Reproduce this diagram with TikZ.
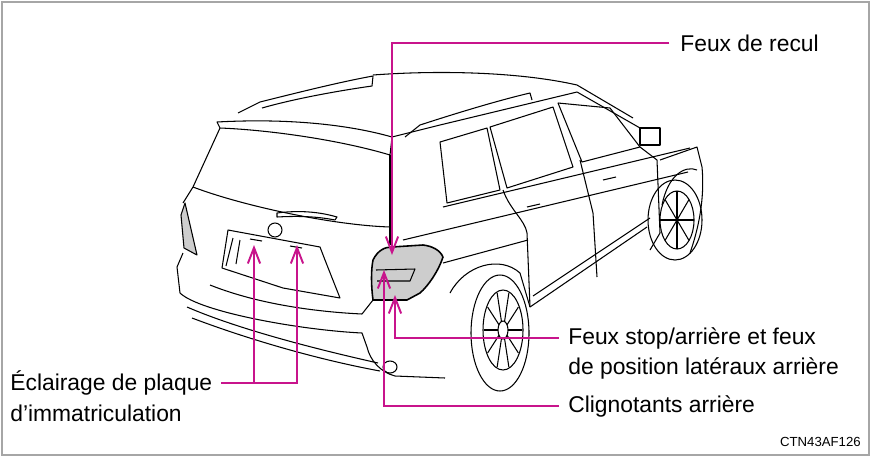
\documentclass[tikz,border=0pt]{standalone}
\usepackage{fontspec}
\setmainfont{Liberation Sans}
\usetikzlibrary{arrows.meta}
\definecolor{callout}{RGB}{200,20,140}
\definecolor{lampgray}{RGB}{205,205,205}
\tikzset{
  lbl/.style={inner sep=0pt, anchor=west, font=\fontsize{13}{15}\selectfont},
  lead/.style={callout, line width=1.1pt},
  tip/.style={lead, -{Straight Barb[length=9pt,width=7pt]}},
  car/.style={black, line width=0.6pt, line join=round}
}
\begin{document}
\begin{tikzpicture}[x=0.02cm, y=-0.02cm]
\useasboundingbox (0,0) rectangle (871,457);
\draw[gray!70, line width=0.8pt] (2,2) rectangle (869,455);

% car body (simplified line art)
\begin{scope}[car]
  % roof rails
  \draw (238,113) -- (260,102) .. controls (300,92) and (340,82) .. (373,76) -- (372,86)
        .. controls (330,92) and (290,100) .. (262,108);
  \draw (405,137) -- (420,125) .. controls (460,112) and (500,100) .. (530,93) -- (532,100);
  % roof line
  \draw (373,75) .. controls (440,70) and (520,72) .. (577,85) -- (633,118);
  % spoiler
  \draw (217,122) .. controls (290,118) and (350,125) .. (392,137) -- (390,155)
        .. controls (340,140) and (270,130) .. (220,128) -- cycle;
  % hatch
  \draw (220,128) -- (193,187) -- (183,203);
  \draw (193,187) .. controls (240,205) and (330,225) .. (390,227);
  \draw (390,155) -- (390,245);
  \draw (277,213) .. controls (300,210) and (320,212) .. (337,217) -- (335,220)
        .. controls (315,216) and (295,216) .. (277,217) -- cycle;
  \draw (275,230) circle (7);
  % plate recess
  \draw (228,230) -- (320,247) -- (325,260) -- (340,298) -- (283,288) -- (222,268) -- cycle;
  \draw (233,238) -- (226,266) (240,240) -- (236,264);
  \draw (250,239) -- (262,241) (290,246) -- (302,248);
  % lower body and bumper
  \draw (183,253) -- (177,267) -- (180,293) .. controls (200,312) and (300,330) .. (362,333)
        -- (367,347) .. controls (370,360) and (380,372) .. (395,376) -- (445,378);
  \draw (187,307) .. controls (240,330) and (320,350) .. (378,363);
  \draw (192,318) .. controls (250,340) and (320,360) .. (380,371);
  \draw (390,367) ellipse (7 and 6);
  \draw (210,285) .. controls (260,305) and (320,312) .. (362,314) -- (373,300);
  % left tail lamp
  \filldraw[fill=lampgray] (185,203) -- (197,255) -- (184,248) -- (181,215) -- cycle;
  % right tail lamp
  \filldraw[fill=lampgray, line width=0.9pt] (373,260) .. controls (378,250) and (385,247) .. (392,247)
        -- (423,245) .. controls (432,246) and (440,250) .. (443,257)
        .. controls (438,272) and (428,286) .. (420,293) -- (407,300) -- (373,300)
        .. controls (371,285) and (371,270) .. (373,260);
  \draw (376,270) -- (415,269) -- (410,281) -- (377,281);
  % side windows
  \draw (440,142) -- (487,128) -- (500,190) -- (447,203) -- cycle;
  \draw (490,127) -- (553,107) -- (573,167) -- (507,188) -- cycle;
  \draw (558,103) -- (610,108) -- (640,147) -- (582,162) -- cycle;
  \draw (640,128) rectangle (660,145);
  % side body
  \draw (392,137) -- (440,125) -- (577,92) -- (640,128);
  \draw (443,207) -- (690,148);
  \draw (403,240) -- (688,172);
  \draw (503,190) .. controls (510,210) and (525,220) .. (527,233) -- (530,307);
  \draw (580,160) -- (593,213) -- (597,277);
  \draw (640,147) -- (657,160) -- (660,233) -- (650,250);
  \draw (660,160) -- (697,147) -- (702,167) .. controls (705,200) and (698,230) .. (690,253);
  \draw (527,207) -- (540,204) (603,180) -- (616,177);
  \draw (530,307) -- (647,227) (533,296) -- (650,218);
  \draw (443,263) -- (528,240);
  % rear wheel
  \draw (450,293) .. controls (465,265) and (500,255) .. (520,273) -- (530,307);
  \draw (500,333) ellipse (29 and 58);
  \draw (503,330) ellipse (20 and 40);
  \draw (503,330) ellipse (5 and 9);
  \foreach \a in {0,36,...,324}
    \draw (503,330) ++({5*cos(\a)},{9*sin(\a)}) -- ++({14*cos(\a)},{30*sin(\a)});
  % front wheel
  \draw (662,205) .. controls (668,175) and (685,165) .. (697,170);
  \draw (675,220) ellipse (27 and 40);
  \draw (677,220) ellipse (17 and 29);
  \foreach \a in {0,45,...,315}
    \draw (677,220) -- ++({17*cos(\a)},{29*sin(\a)});
\end{scope}

% labels
\node[lbl] (recul) at (680,43) {Feux de recul};
\node[lbl] (stop) at (568,338) {Feux stop/arrière et feux};
\node[lbl] (pos) at (568,368) {de position latéraux arrière};
\node[lbl] (clign) at (568,406) {Clignotants arrière};
\node[lbl] (plaque) at (10,383) {Éclairage de plaque};
\node[lbl] (immat) at (10,413) {d'immatriculation};
\node[inner sep=0pt, anchor=east, font=\fontsize{7.5}{9}\selectfont] (code) at (861,442) {CTN43AF126};

% leaders
\coordinate (recultip) at (392,255);
\coordinate (stoptip) at (395,295);
\coordinate (cligntip) at (384,270);
\coordinate (plA) at (254,245);
\coordinate (plB) at (297,245);
\draw[tip] ([xshift=-6pt]recul.west) -| (recultip);
\draw[tip] ([xshift=-5pt]stop.west) -| (stoptip);
\draw[tip] ([xshift=-5pt]clign.west) -| (cligntip);
\draw[tip] ([xshift=5pt]plaque.east) -| (plB);
\draw[tip] (254,383) -- (plA);
\end{tikzpicture}
\end{document}
